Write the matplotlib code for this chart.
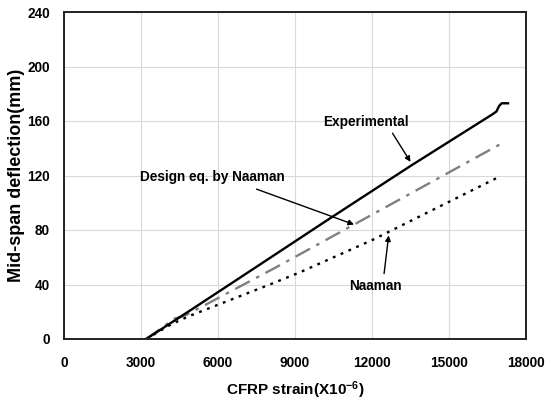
import numpy as np
import matplotlib
matplotlib.use("Agg")
import matplotlib.pyplot as plt

plt.rcParams["font.family"] = ["Liberation Sans", "DejaVu Sans"]
plt.rcParams["font.weight"] = "bold"
plt.rcParams["mathtext.fontset"] = "custom"
plt.rcParams["mathtext.rm"] = "Liberation Sans:bold"
plt.rcParams["mathtext.default"] = "rm"

# data (strain x1e-6, deflection mm)
exp_strain = [3200, 5000, 7300, 10400, 13500, 16700, 16850, 16950, 17050, 17300]
exp_defl = [0, 22, 50.5, 89, 127, 165, 167, 171, 173, 173]

design_strain = [3200, 3800, 4300, 4700, 5400, 8300, 11300, 17000]
design_defl = [0, 8, 15, 17, 24, 53, 84, 143]

naaman_strain = [3200, 4200, 4900, 8150, 9200, 12050, 16950]
naaman_defl = [0, 11, 17, 41, 49, 73, 119]

xticks = [0, 3000, 6000, 9000, 12000, 15000, 18000]
yticks = [0, 40, 80, 120, 160, 200, 240]

fig = plt.figure(figsize=(5.5, 4.03), dpi=100)
ax = fig.add_axes([64 / 550, 1 - 339 / 403, 462 / 550, 327 / 403])

ax.plot(naaman_strain, naaman_defl, color="black", lw=1.7, linestyle=(0, (1.2, 2.4)))
ax.plot(design_strain, design_defl, color="#808080", lw=1.7,
        linestyle=(0, (7, 3, 1.5, 3)))
ax.plot(exp_strain, exp_defl, color="black", lw=1.7)

ax.set_xlim(0, 18000)
ax.set_ylim(0, 240)
ax.set_xticks(xticks)
ax.set_yticks(yticks)
ax.tick_params(axis="both", length=0, labelsize=9.8)
ax.tick_params(axis="x", pad=12)
ax.tick_params(axis="y", pad=10)
ax.grid(True, color="#d9d9d9", lw=0.8)
ax.set_axisbelow(True)
for s in ax.spines.values():
    s.set_linewidth(1.4)
    s.set_color("#222222")

ax.set_xlabel(r"CFRP strain(X10$^{-6}$)", fontsize=11, fontweight="bold")
ax.set_ylabel("Mid-span deflection(mm)", fontsize=13, fontweight="bold")
ax.xaxis.set_label_coords(0.5, -0.125)
ax.yaxis.set_label_coords(-0.084, 0.5)

arrow = dict(arrowstyle="-|>", color="black", lw=1.0, mutation_scale=8,
             shrinkA=0, shrinkB=0)
ax.annotate("Experimental", xy=(11766, 159), fontsize=9.8,
            fontweight="bold", ha="center", va="center")
ax.annotate("", xy=(13500, 130), xytext=(12800, 151), arrowprops=arrow)

ax.annotate("Design eq. by Naaman", xy=(5766, 119), fontsize=9.8,
            fontweight="bold", ha="center", va="center")
ax.annotate("", xy=(11300, 84), xytext=(7500, 110), arrowprops=arrow)

ax.annotate("Naaman", xy=(12117, 39), fontsize=9.8, fontweight="bold",
            ha="center", va="center")
ax.annotate("", xy=(12650, 76), xytext=(12470, 48), arrowprops=arrow)

fig.savefig("out.png", dpi=100)
